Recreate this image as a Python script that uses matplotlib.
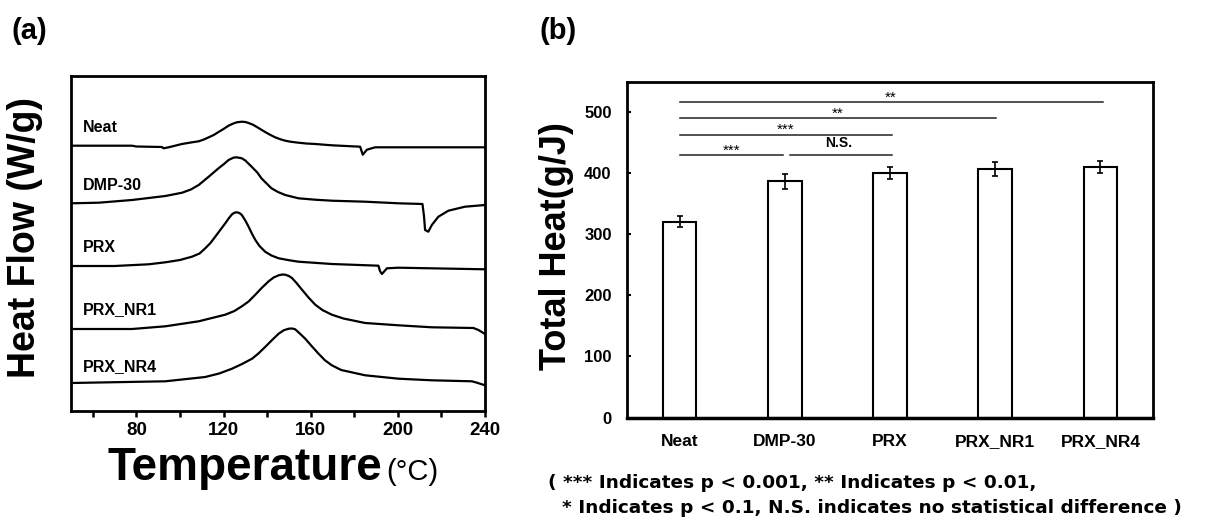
import numpy as np
import matplotlib
matplotlib.use("Agg")
import matplotlib.pyplot as plt
from matplotlib.ticker import MultipleLocator

plt.rcParams['font.family'] = ['Liberation Sans', 'DejaVu Sans']

# ---------------- (a) DSC curves, heat flow in arbitrary stacked units ----------------
curve_names = ['Neat', 'DMP-30', 'PRX', 'PRX_NR1', 'PRX_NR4']
curve_label_y = [283, 226, 163, 101, 44]

neat_T = [50, 78, 80, 91.7, 92.5, 94.8, 100.9, 105, 108.6, 111, 113.2, 115.5, 117.7, 120, 122.3,
          124.5, 126.1, 128.4, 130, 131.5, 133.5, 135.3, 137.2, 139.1, 141.4, 143.7, 146, 148.3,
          151, 154.4, 158, 162.1, 169.7, 182.7, 183.9, 185.8, 189.6, 240]
neat_hf = [265.3, 265.3, 264.5, 264, 262.7, 263.7, 267, 268.5, 269.7, 271.5, 273.7, 276, 279, 282, 285.3,
           287.5, 288.7, 289.3, 289, 288, 286.3, 284, 281.5, 279, 276.2, 273.7, 271.8, 270.3,
           269.2, 268.3, 267.5, 267, 265.7, 264.3, 256.3, 261.3, 263.7, 263.7]

dmp_T = [50, 62.7, 78, 93.3, 101, 105, 108.6, 113.2, 117.7, 120.5, 122.3, 124.5, 126, 128.4, 130,
         132.9, 135.5, 137.4, 140, 142, 145, 148.3, 154.4, 162, 169.7, 185, 200.3, 211.3, 212, 212.5,
         214, 215.6, 218.6, 223.2, 230.8, 240]
dmp_hf = [207.7, 208.3, 211, 215, 218.3, 221.5, 226, 234.3, 242.7, 247.5, 251, 253.3, 253.7, 252.7, 250.5,
          244.3, 238.5, 232.7, 227, 222.7, 219, 216, 212.7, 211.3, 210.3, 209.3, 207.7, 207, 195, 181,
          179.3, 186, 194.3, 200.3, 204.3, 206]

prx_T = [50, 70, 85.6, 93.3, 100, 105.5, 109, 111.6, 114, 116.2, 118.5, 120.8, 122.5, 123.9, 125,
         126.1, 127.3, 128.4, 130, 131.5, 133, 134.6, 136.5, 139.1, 142, 145.3, 150, 154.4, 169.7,
         191.1, 191.8, 192.7, 195, 200.3, 220, 240]
prx_hf = [145, 145, 146.7, 148.7, 151, 154.3, 157.5, 162.7, 168, 174.3, 181, 187.7, 193, 196.7, 198.3,
          198.7, 198, 196, 190.5, 184.3, 177.5, 171, 165, 159.3, 155.5, 152.7, 150.8, 149.3, 147,
          145.3, 140, 137, 142.7, 143.3, 142.5, 141.7]

nr1_T = [50, 78, 93.3, 108.6, 120.8, 125, 128.4, 131.5, 134.6, 137.5, 140.7, 143, 145.3, 147, 148.3,
         150, 151.4, 153.5, 156, 159, 162.1, 165.5, 169.7, 175, 185, 200.3, 215.6, 234.7, 237, 240]
nr1_hf = [82, 82, 84.7, 89.7, 96.3, 100, 104.7, 109.5, 116.3, 123, 129.7, 133.5, 135.7, 136.5, 136.3,
          135, 133, 128, 121.3, 113.5, 106.3, 100.8, 96.3, 92.5, 88, 85.7, 83.7, 83, 81, 77]

nr4_T = [50, 93.3, 111.6, 118, 123.9, 128.5, 133.1, 136, 139.1, 142.2, 145.3, 147.7, 149.9, 151.5,
         152.9, 155, 157.5, 160.5, 163.6, 166.5, 169.7, 174, 185, 200.3, 215.6, 234, 236, 240]
nr4_hf = [28, 29.7, 34, 37.5, 42.3, 47, 52.3, 57.5, 64, 70.8, 77.3, 80.8, 82.3, 82.5,
          81.7, 77.5, 72.3, 64.8, 57.3, 50.8, 45.7, 41, 35.7, 32.3, 30.7, 29.7, 28.5, 25.7]

curves_T = [neat_T, dmp_T, prx_T, nr1_T, nr4_T]
curves_hf = [neat_hf, dmp_hf, prx_hf, nr1_hf, nr4_hf]

# ---------------- (b) total heat ----------------
groups = ['Neat', 'DMP-30', 'PRX', 'PRX_NR1', 'PRX_NR4']
total_heat = [321, 387, 400, 407, 410]
total_heat_err = [9, 12, 10, 11, 9.5]

# significance brackets: start group, end group, height, label
sig_x0 = [0, 0, 0, 0, 1.05]
sig_x1 = [4.02, 3.01, 2.02, 0.98, 2.02]
sig_y = [516, 490, 463, 430, 430]
sig_text = ['**', '**', '***', '***', 'N.S.']

fig = plt.figure(figsize=(12.07, 5.21), dpi=100)

# ---- panel (a)
ax1 = fig.add_axes([71 / 1207, 1 - 411 / 521, 414 / 1207, 335 / 521])
for T, hf in zip(curves_T, curves_hf):
    ax1.plot(T, hf, color='black', lw=1.6, solid_joinstyle='round')
for name, ly in zip(curve_names, curve_label_y):
    ax1.text(55.5, ly, name, fontsize=11.5, fontweight='bold', va='center', ha='left')
ax1.set_xlim(50, 240)
ax1.set_ylim(0, 335)
ax1.xaxis.set_minor_locator(MultipleLocator(20))
ax1.set_xticks([80, 120, 160, 200, 240])
ax1.set_yticks([])
ax1.tick_params(axis='x', which='both', direction='out', length=4, width=1.8, pad=4,
                labelsize=13.5)
for lab in ax1.get_xticklabels():
    lab.set_fontweight('bold')
for s in ax1.spines.values():
    s.set_linewidth(2)

fig.text(25 / 1207, 1 - 237 / 521, 'Heat Flow (W/g)', rotation=90, fontsize=27,
         fontweight='bold', ha='center', va='center')
fig.text(107 / 1207, 1 - 480 / 521, 'Temperature', fontsize=33, fontweight='bold',
         ha='left', va='baseline')
fig.text(386 / 1207, 1 - 480 / 521, '(°C)', fontsize=21, ha='left', va='baseline')
fig.text(29 / 1207, 1 - 31 / 521, '(a)', fontsize=21, fontweight='bold', ha='center', va='center')

# ---- panel (b)
ax2 = fig.add_axes([627 / 1207, 1 - 417.5 / 521, 526 / 1207, 335.8 / 521])
x = np.arange(len(groups))
ax2.bar(x, total_heat, width=0.32, color='white', edgecolor='black', linewidth=1.5, zorder=2)
ax2.errorbar(x, total_heat, yerr=total_heat_err, fmt='none', ecolor='black',
             elinewidth=1.2, capsize=2, capthick=1.2, zorder=3)
for x0, x1, y, t in zip(sig_x0, sig_x1, sig_y, sig_text):
    ax2.plot([x0, x1], [y, y], color='#222222', lw=1.1)
    if t == 'N.S.':
        ax2.text((x0 + x1) / 2 - 0.02, y + 8, t, fontsize=10, fontweight='bold',
                 ha='center', va='bottom')
    else:
        ax2.text((x0 + x1) / 2, y + 1, t, fontsize=11, ha='center', va='baseline')
ax2.set_xlim(-0.5, 4.5)
ax2.set_ylim(0, 550)
ax2.set_yticks(np.arange(0, 501, 100))
ax2.set_xticks(x)
ax2.set_xticklabels(groups)
ax2.tick_params(axis='y', direction='in', length=3, width=1.5, pad=11, labelsize=12)
ax2.tick_params(axis='x', length=0, pad=12, labelsize=12.5)
for lab in ax2.get_xticklabels() + ax2.get_yticklabels():
    lab.set_fontweight('bold')
for s in ax2.spines.values():
    s.set_linewidth(2)
ax2.spines['bottom'].set_linewidth(2.5)

fig.text(556 / 1207, 1 - 246 / 521, 'Total Heat(g/J)', rotation=90, fontsize=26,
         fontweight='bold', ha='center', va='center')
fig.text(558 / 1207, 1 - 31 / 521, '(b)', fontsize=21, fontweight='bold', ha='center', va='center')

note_font = dict(fontsize=13.3, fontweight='bold', family='DejaVu Sans', ha='left', va='center')
fig.text(548 / 1207, 1 - 483 / 521, '( *** Indicates p < 0.001, ** Indicates p < 0.01,',
         **note_font)
fig.text(562 / 1207, 1 - 508 / 521,
         '* Indicates p < 0.1, N.S. indicates no statistical difference )', **note_font)

fig.savefig('out.png', dpi=100)
